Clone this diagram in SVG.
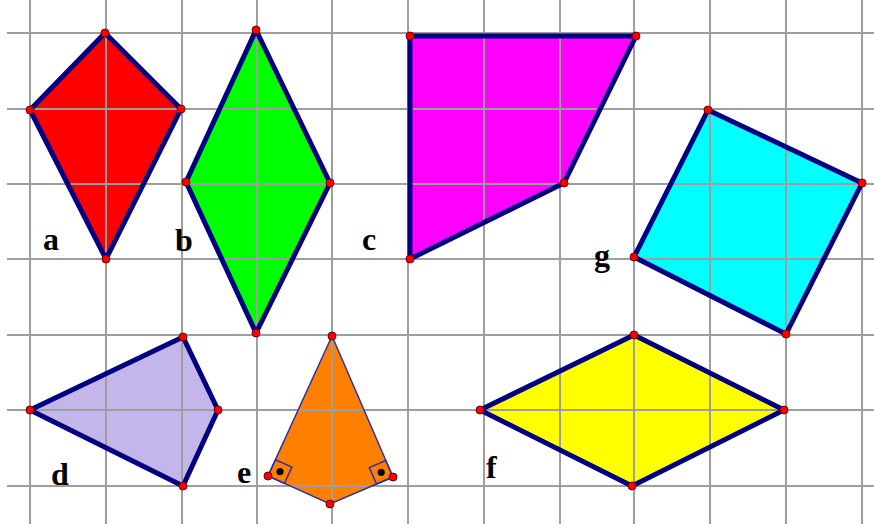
<svg xmlns="http://www.w3.org/2000/svg" xmlns:xlink="http://www.w3.org/1999/xlink" width="874" height="526" viewBox="0 0 874 526">
<style>
.grid line{stroke:#9e9e9e;stroke-width:2}
.edge{fill:none;stroke:#000080;stroke-width:5;stroke-linejoin:round}
.thin{fill:none;stroke:#3030a0;stroke-width:1.5}
.pt{fill:#ff0000;stroke:#700000;stroke-width:1}
.lbl{font-family:"Liberation Serif","Times New Roman",serif;font-weight:bold;font-size:32px;fill:#000}
</style>
<defs>
<g id="gridlines" class="grid">
<line x1="30" y1="0" x2="30" y2="524"/><line x1="106" y1="0" x2="106" y2="524"/><line x1="182" y1="0" x2="182" y2="524"/><line x1="257" y1="0" x2="257" y2="524"/><line x1="332" y1="0" x2="332" y2="524"/><line x1="408" y1="0" x2="408" y2="524"/><line x1="484" y1="0" x2="484" y2="524"/><line x1="560" y1="0" x2="560" y2="524"/><line x1="634" y1="0" x2="634" y2="524"/><line x1="710" y1="0" x2="710" y2="524"/><line x1="786" y1="0" x2="786" y2="524"/><line x1="862" y1="0" x2="862" y2="524"/>
<line x1="7" y1="33" x2="874" y2="33"/><line x1="7" y1="109" x2="874" y2="109"/><line x1="7" y1="184" x2="874" y2="184"/><line x1="7" y1="259" x2="874" y2="259"/><line x1="7" y1="335" x2="874" y2="335"/><line x1="7" y1="410" x2="874" y2="410"/><line x1="7" y1="486" x2="874" y2="486"/>
</g>
<polygon id="pa" points="105,33 181,109 106,259 30,110"/>
<polygon id="pb" points="256,30 330,183 256,333 186,182"/>
<polygon id="pc" points="410,36 636,36 564,183 410,259"/>
<polygon id="pd" points="30,410 183,337 218,410 183,486"/>
<polygon id="pe" points="332,336 393,477 330,504 268,476"/>
<polygon id="pf" points="480,410 634,335 784,410 632,486"/>
<polygon id="pg" points="708,110 862,183 786,334 634,257"/>
<clipPath id="ca"><use xlink:href="#pa"/></clipPath>
<clipPath id="cb"><use xlink:href="#pb"/></clipPath>
<clipPath id="cc"><use xlink:href="#pc"/></clipPath>
<clipPath id="cd"><use xlink:href="#pd"/></clipPath>
<clipPath id="ce"><use xlink:href="#pe"/></clipPath>
<clipPath id="cf"><use xlink:href="#pf"/></clipPath>
<clipPath id="cg"><use xlink:href="#pg"/></clipPath>
</defs>
<rect width="874" height="526" fill="#ffffff"/>
<g id="grid"><use xlink:href="#gridlines"/></g>

<g id="a">
<use xlink:href="#pa" fill="#ff0000"/>
<use xlink:href="#gridlines" clip-path="url(#ca)"/>
<use xlink:href="#pa" class="edge"/>
<circle class="pt" cx="105" cy="33" r="4"/><circle class="pt" cx="181" cy="109" r="4"/><circle class="pt" cx="106" cy="259" r="4"/><circle class="pt" cx="30" cy="110" r="4"/>
<text class="lbl" x="43" y="250">a</text>
</g>

<g id="b">
<use xlink:href="#pb" fill="#00ff00"/>
<use xlink:href="#gridlines" clip-path="url(#cb)"/>
<use xlink:href="#pb" class="edge"/>
<circle class="pt" cx="256" cy="30" r="4"/><circle class="pt" cx="330" cy="183" r="4"/><circle class="pt" cx="256" cy="333" r="4"/><circle class="pt" cx="186" cy="182" r="4"/>
<text class="lbl" x="175" y="251">b</text>
</g>

<g id="c">
<use xlink:href="#pc" fill="#ff00ff"/>
<use xlink:href="#gridlines" clip-path="url(#cc)"/>
<use xlink:href="#pc" class="edge"/>
<circle class="pt" cx="410" cy="36" r="4"/><circle class="pt" cx="636" cy="36" r="4"/><circle class="pt" cx="564" cy="183" r="4"/><circle class="pt" cx="410" cy="259" r="4"/>
<text class="lbl" x="362" y="250">c</text>
</g>

<g id="g">
<use xlink:href="#pg" fill="#00ffff"/>
<use xlink:href="#gridlines" clip-path="url(#cg)"/>
<use xlink:href="#pg" class="edge"/>
<circle class="pt" cx="708" cy="110" r="4"/><circle class="pt" cx="862" cy="183" r="4"/><circle class="pt" cx="786" cy="334" r="4"/><circle class="pt" cx="634" cy="257" r="4"/>
<text class="lbl" x="594" y="266">g</text>
</g>

<g id="d">
<use xlink:href="#pd" fill="#c4b6ea"/>
<use xlink:href="#gridlines" clip-path="url(#cd)"/>
<use xlink:href="#pd" class="edge"/>
<circle class="pt" cx="30" cy="410" r="4"/><circle class="pt" cx="183" cy="337" r="4"/><circle class="pt" cx="218" cy="410" r="4"/><circle class="pt" cx="183" cy="486" r="4"/>
<text class="lbl" x="51" y="485">d</text>
</g>

<g id="e">
<use xlink:href="#pe" fill="#ff8000"/>
<use xlink:href="#gridlines" clip-path="url(#ce)"/>
<use xlink:href="#pe" class="thin"/>
<polygon class="thin" points="268,476 275.5,459.7 291.9,467.1 284.4,483.5"/>
<polygon class="thin" points="393,477 385.8,460.5 369.3,467.6 376.5,484.1"/>
<circle cx="280" cy="471.6" r="3.6" fill="#000"/>
<circle cx="381.2" cy="472.3" r="3.6" fill="#000"/>
<circle class="pt" cx="332" cy="336" r="4"/><circle class="pt" cx="393" cy="477" r="4"/><circle class="pt" cx="330" cy="504" r="4"/><circle class="pt" cx="268" cy="476" r="4"/>
<text class="lbl" x="237" y="483">e</text>
</g>

<g id="f">
<use xlink:href="#pf" fill="#ffff00"/>
<use xlink:href="#gridlines" clip-path="url(#cf)"/>
<use xlink:href="#pf" class="edge"/>
<circle class="pt" cx="480" cy="410" r="4"/><circle class="pt" cx="634" cy="335" r="4"/><circle class="pt" cx="784" cy="410" r="4"/><circle class="pt" cx="632" cy="486" r="4"/>
<text class="lbl" x="486" y="478">f</text>
</g>

<g id="connectors"></g>
</svg>
